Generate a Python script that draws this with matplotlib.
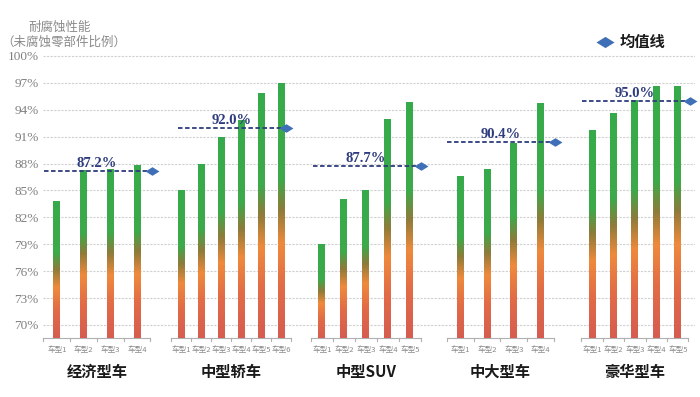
import matplotlib
matplotlib.use("Agg")
import matplotlib.pyplot as plt
import numpy as np
from matplotlib.colors import LinearSegmentedColormap
from matplotlib.lines import Line2D
from matplotlib.path import Path

# ---- data ----
groups = ["经济型车", "中型轿车", "中型SUV", "中大型车", "豪华型车"]
econ_vals = [83.8, 87.3, 87.4, 87.8]
sedan_vals = [85.0, 88.0, 91.0, 92.8, 95.9, 97.0]
suv_vals = [79.0, 84.0, 85.0, 93.0, 94.9]
midlarge_vals = [86.6, 87.4, 90.3, 94.8]
luxury_vals = [91.7, 93.6, 95.1, 96.6, 96.7]
series = [econ_vals, sedan_vals, suv_vals, midlarge_vals, luxury_vals]
means = [87.2, 92.0, 87.7, 90.4, 95.0]
mean_labels = ["87.2%", "92.0%", "87.7%", "90.4%", "95.0%"]
yticks = [70, 73, 76, 79, 82, 85, 88, 91, 94, 97, 100]
ylabel_lines = ["耐腐蚀性能", "（未腐蚀零部件比例）"]
legend_label = "均值线"

CJK = ["Noto Sans CJK SC", "DejaVu Sans"]
SERIF = ["Liberation Serif", "DejaVu Serif"]

W, H = 700, 397
fig = plt.figure(figsize=(7, 3.97), dpi=100)
fig.patch.set_facecolor("white")

diamond = Path([(-1, 0), (0, 0.62), (1, 0), (0, -0.62), (-1, 0)],
               [Path.MOVETO, Path.LINETO, Path.LINETO, Path.LINETO, Path.CLOSEPOLY])

# axes in pixel layout
ax_left, ax_right = 43, 695
ybot_val, ytop_val = 68.55, 100.5
y_px_bot = 338
y_px_top = 325 - (ytop_val - 70) * 8.97
ax = fig.add_axes([ax_left / W, 1 - y_px_bot / H, (ax_right - ax_left) / W,
                   (y_px_bot - y_px_top) / H])
ax.set_xlim(ax_left, ax_right)
ax.set_ylim(ybot_val, ytop_val)
for s in ax.spines.values():
    s.set_visible(False)
ax.set_xticks([])
ax.set_yticks(yticks)
ax.set_yticklabels([f"{t}%" for t in yticks], family=SERIF, fontsize=9.5, color="#808080")
ax.tick_params(axis="y", length=0, pad=3)
for t in yticks:
    ax.axhline(t, color="#d0d0d0", lw=0.8, ls=(0, (2, 1.2)), zorder=0)

cmap = LinearSegmentedColormap.from_list(
    "bar", [(0.0, "#d65c50"), (0.2, "#e26b47"), (0.37, "#ef8a3c"),
            (0.5, "#8e7b3a"), (0.62, "#3da94a"), (1.0, "#36ab4b")])
grad = np.repeat(np.linspace(0, 1, 512).reshape(-1, 1), 4, axis=1)

centers = [97 + 134.5 * g for g in range(len(groups))]
slot_w = [107, 120, 110, 107, 107]
bar_w = 7

for g, vals in enumerate(series):
    n = len(vals)
    sp = slot_w[g] / n
    xs = [centers[g] + (i - (n - 1) / 2) * sp for i in range(n)]
    bars = ax.bar(xs, [v - ybot_val for v in vals], bottom=ybot_val, width=bar_w,
                  color="none", edgecolor="none", zorder=2)
    for b in bars:
        x0 = b.get_x()
        im = ax.imshow(grad, cmap=cmap, origin="lower", aspect="auto",
                       extent=[x0, x0 + bar_w, ybot_val, ybot_val + b.get_height()],
                       zorder=2, interpolation="nearest")
        im.set_clip_path(b)
    # axis segment with ticks
    left = xs[0] - sp / 2
    right = xs[-1] + sp / 2
    ax.plot([left, right], [ybot_val, ybot_val], color="#b0b0b0", lw=0.8,
            clip_on=False, zorder=1)
    for k in range(n + 1):
        xt = left + k * sp
        ax.plot([xt, xt], [ybot_val, ybot_val - 0.35], color="#b0b0b0", lw=0.8,
                clip_on=False)
    for i, x in enumerate(xs):
        ax.text(x, ybot_val - 0.9, f"车型{i + 1}", ha="center", va="top",
                fontsize=5.5, color="#8a8a8a", family=CJK)
    ax.text(centers[g], ybot_val - 2.9, groups[g], ha="center", va="top",
            fontsize=11, fontweight="bold", color="#1a1a1a", family=CJK)
    # mean line
    m = means[g]
    ax.plot([centers[g] - 53, centers[g] + 55], [m, m], color="#2e3c7e", lw=1.3,
            ls=(0, (2.5, 1.4)), zorder=3)
    ax.plot([centers[g] + 55], [m], marker=diamond, ms=10, color="#3f6fb6",
            mec="#3f6fb6", mew=0, zorder=4, clip_on=False)
    ax.text(centers[g], m + 0.1, mean_labels[g], ha="center", va="bottom",
            fontsize=10.5, fontweight="bold", color="#2e3c7e", family=SERIF, zorder=5)

# y label title
fig.text(60 / W, 1 - 27 / H, ylabel_lines[0], ha="center", va="center",
         fontsize=9, color="#8a8a8a", family=CJK)
fig.text(64 / W, 1 - 42 / H, ylabel_lines[1], ha="center", va="center",
         fontsize=9, color="#8a8a8a", family=CJK)

# legend
fig.add_artist(Line2D([605 / W], [1 - 42 / H], marker=diamond, ms=13, color="#3f6fb6",
                      mew=0, transform=fig.transFigure, ls="none"))
fig.text(620 / W, 1 - 42 / H, legend_label, ha="left", va="center",
         fontsize=11, fontweight="bold", color="#1a1a1a", family=CJK)

fig.savefig("out.png", dpi=100, facecolor="white")
